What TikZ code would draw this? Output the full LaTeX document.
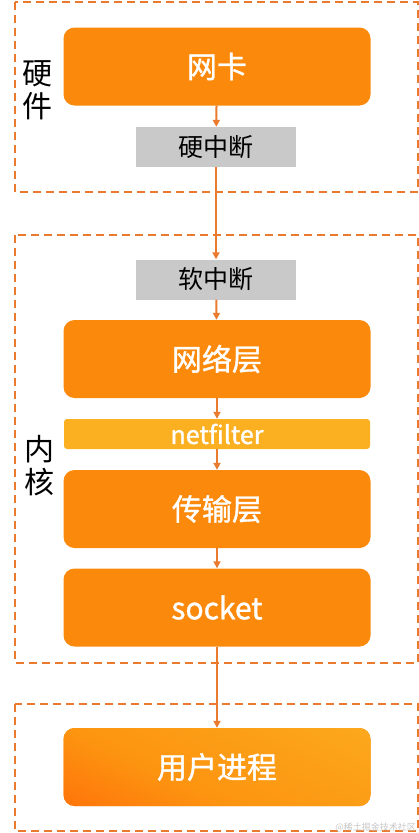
\documentclass[tikz,border=0pt]{standalone}
\usepackage{fontspec}
\setmainfont{Noto Sans CJK SC}
\newfontfamily\boxfont[FakeBold=1.2]{Noto Sans CJK SC}
\usetikzlibrary{arrows.meta}
\definecolor{layerorange}{HTML}{FB8A0C}
\definecolor{dashorange}{HTML}{E97A2E}
\definecolor{irqgray}{HTML}{C9C9C9}
\definecolor{filteryellow}{HTML}{FBB022}
\definecolor{userred}{HTML}{FF5E06}
\definecolor{usermid}{HTML}{FD9410}
\pgfdeclarehorizontalshading{userfade}{100bp}{color(0bp)=(userred); color(40bp)=(usermid); color(100bp)=(filteryellow)}

\begin{document}
\begin{tikzpicture}[x=1pt,y=-1pt,>={Triangle[length=7pt,width=7pt]},
	group/.style={draw=dashorange,line width=1.6pt,dash pattern=on 8pt off 5pt},
	layer/.style={fill=layerorange,rounded corners=11pt,minimum width=307pt,minimum height=78pt,
		text=white,font=\boxfont\fontsize{30}{34}\selectfont,inner sep=0pt},
	irq/.style={fill=irqgray,minimum width=160pt,minimum height=40pt,inner sep=0pt,
		font=\fontsize{25}{28}\selectfont},
	filterbar/.style={fill=filteryellow,rounded corners=3pt,minimum width=306pt,minimum height=30pt,
		inner sep=0pt,text=white,font=\boxfont\fontsize{25}{26}\selectfont},
	grouplabel/.style={font=\fontsize{30}{33}\selectfont,align=center,inner sep=0pt},
	flow/.style={->,draw=dashorange,line width=2pt}]
	\useasboundingbox (0,0) rectangle (419,833);
	%\draw [help lines,step=50] (0,0) grid (419,833);
	
	% Gruppi
	\draw [group] (15,2) rectangle (418,192);
	\draw [group] (15,235) rectangle (418,663);
	\draw [group] (15,704) rectangle (418,831);
	\node [grouplabel] (hw) at (38,90) {硬\\件};
	\node [grouplabel] (kern) at (39,466) {内\\核};
	
	% Hardware
	\node [layer] (nic) at (217,66.5) {网卡};
	\node [irq] (hirq) at (216,147) {硬中断};
	
	% Kernel
	\node [irq] (sirq) at (216,279.5) {软中断};
	\node [layer] (net) at (217,359) {网络层};
	\node [filterbar] (nf) at (217,434) {netfilter};
	\node [layer] (trans) at (217,509) {传输层};
	\node [layer] (sock) at (217,607.5) {socket};
	
	% Utente
	\node [layer,shading=userfade,shading angle=65] (user) at (217,767) {用户进程};
	
	% Frecce
	\draw [flow] (nic) -- (hirq);
	\draw [flow] (hirq) -- (sirq);
	\draw [flow] (sirq) -- (net);
	\draw [flow] (net) -- (nf);
	\draw [flow] (nf) -- (trans);
	\draw [flow] (trans) -- (sock);
	\draw [flow] (sock) -- (user);
	
	\node [anchor=south east,text=gray!45,font=\fontsize{9}{9}\selectfont,inner sep=1pt] (mark) at (417,833) {@稀土掘金技术社区};
\end{tikzpicture}
\end{document}
